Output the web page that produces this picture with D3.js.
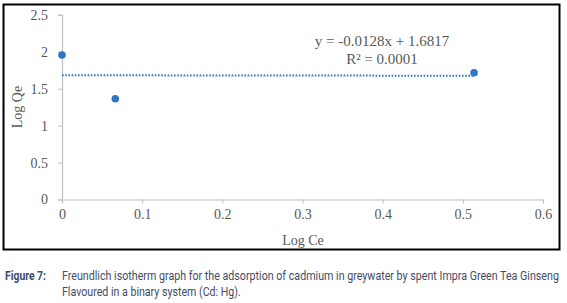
<!DOCTYPE html>
<html>
<head>
<meta charset="utf-8">
<script src="https://cdn.jsdelivr.net/npm/d3@7"></script>
<style>
  body { margin: 0; background: #fff; }
  svg { display: block; }
</style>
</head>
<body>
<svg id="chart" width="567" height="303"></svg>
<script>
// --- Data ---
const logCe = [0, 0.0665, 0.514];
const logQe = [1.955, 1.363, 1.715];
const xTicks = [0, 0.1, 0.2, 0.3, 0.4, 0.5, 0.6];
const yTicks = [0, 0.5, 1, 1.5, 2, 2.5];
const slope = -0.0128;
const intercept = 1.6817;
const trendRange = [0, 0.514];
const eqLines = ["y = -0.0128x + 1.6817", "R\u00b2 = 0.0001"];
const captionLabel = "Figure 7:";
const captionLines = [
  "Freundlich isotherm graph for the adsorption of cadmium in greywater by spent Impra Green Tea Ginseng",
  "Flavoured in a binary system (Cd: Hg)."
];

const svg = d3.select("#chart");
const serif = "'Liberation Serif', 'Times New Roman', serif";
const narrow = "Roboto, 'Liberation Sans', sans-serif";

// chart frame
svg.append("rect")
  .attr("x", 3.5).attr("y", 4.5)
  .attr("width", 556).attr("height", 245)
  .attr("fill", "#fff")
  .attr("stroke", "#000")
  .attr("stroke-width", 2);

const x = d3.scaleLinear().domain([0, 0.6]).range([62, 543]);
const y = d3.scaleLinear().domain([0, 2.5]).range([199.5, 14.8]);

// axes
const xAxisG = svg.append("g")
  .attr("transform", `translate(0,${y(0)})`)
  .call(d3.axisBottom(x).tickValues(xTicks).tickSize(4).tickPadding(6).tickFormat(d3.format("~g")));
const yAxisG = svg.append("g")
  .attr("transform", `translate(${x(0)},0)`)
  .call(d3.axisLeft(y).tickValues(yTicks).tickSize(4).tickPadding(10).tickFormat(d3.format("~g")));

[xAxisG, yAxisG].forEach(g => {
  g.select(".domain").attr("stroke", "#bfbfbf").attr("stroke-width", 1.2);
  g.selectAll(".tick line").attr("stroke", "#bfbfbf");
  g.selectAll("text")
    .attr("fill", "#595959")
    .style("font-family", serif)
    .style("font-size", "14px");
});

// axis titles
svg.append("text")
  .attr("x", 303).attr("y", 245)
  .attr("text-anchor", "middle")
  .attr("fill", "#595959")
  .style("font-family", serif).style("font-size", "14px")
  .text("Log Ce");

svg.append("text")
  .attr("transform", "translate(22,107) rotate(-90)")
  .attr("text-anchor", "middle")
  .attr("fill", "#595959")
  .style("font-family", serif).style("font-size", "14px")
  .text("Log Qe");

// trendline (dotted)
svg.append("line")
  .attr("x1", x(trendRange[0])).attr("y1", y(intercept + slope * trendRange[0]))
  .attr("x2", x(trendRange[1])).attr("y2", y(intercept + slope * trendRange[1]))
  .attr("stroke", "#2e75c6")
  .attr("stroke-width", 2)
  .attr("stroke-dasharray", "1.6,1.6");

// points
svg.selectAll(".pt")
  .data(logCe.map((d, i) => ({ x: d, y: logQe[i] })))
  .enter().append("circle")
  .attr("class", "pt")
  .attr("cx", d => x(d.x))
  .attr("cy", d => y(d.y))
  .attr("r", 3.8)
  .attr("fill", "#2e75c6");

// equation label
svg.selectAll(".eq")
  .data(eqLines)
  .enter().append("text")
  .attr("class", "eq")
  .attr("x", 382)
  .attr("y", (d, i) => 46 + i * 18)
  .attr("text-anchor", "middle")
  .attr("fill", "#595959")
  .style("font-family", serif).style("font-size", "15px")
  .text(d => d);

// caption: squeeze horizontally with a scale so it looks condensed
function condensed(str, left, base, width, color, weight) {
  const g = svg.append("g");
  const t = g.append("text")
    .attr("x", 0).attr("y", base)
    .attr("fill", color)
    .style("font-family", narrow).style("font-size", "12px")
    .style("font-weight", weight)
    .text(str);
  const sx = width / t.node().getComputedTextLength();
  g.attr("transform", `translate(${left},0) scale(${sx},1)`);
}

condensed(captionLabel, 5, 280, 41, "#3b4c6e", "bold");
const capWidths = [497, 179];
captionLines.forEach((d, i) => condensed(d, 62, 280 + i * 16, capWidths[i], "#434c63", "normal"));
</script>
</body>
</html>
